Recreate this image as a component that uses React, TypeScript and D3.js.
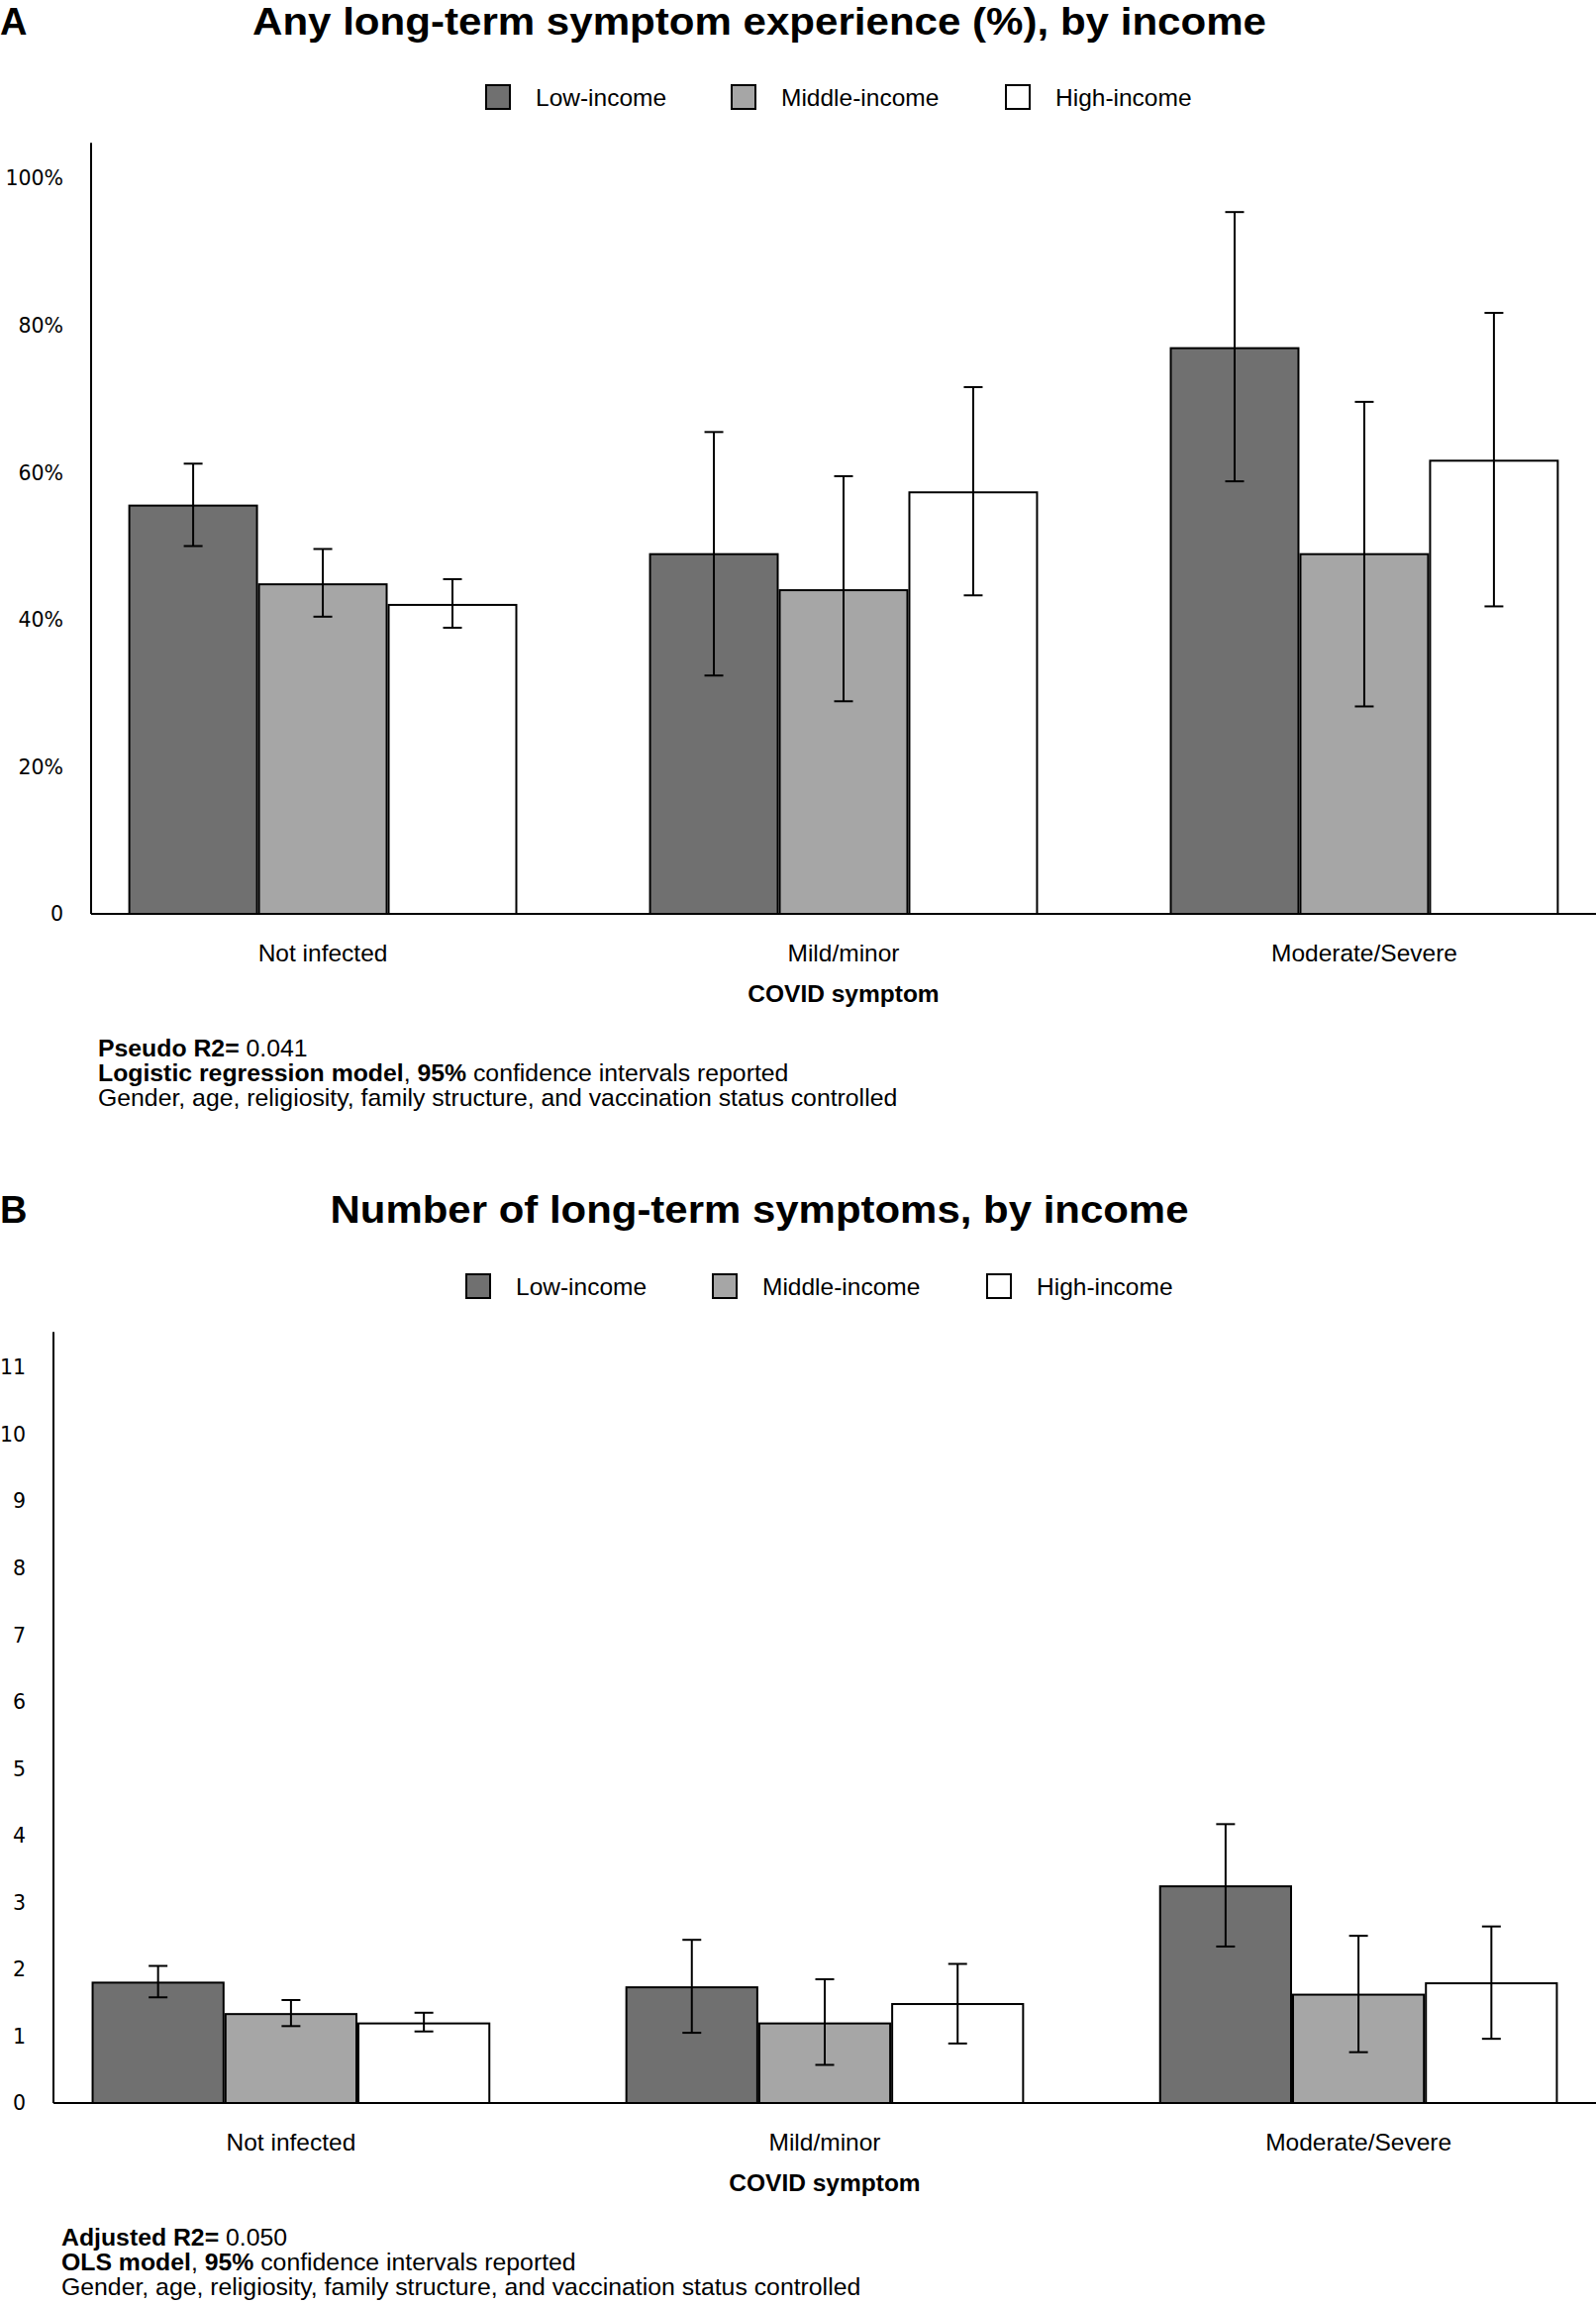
import React from "react";
import * as d3 from "d3";

const categories = ["Not infected", "Mild/minor", "Moderate/Severe"];
const seriesNames = ["Low-income", "Middle-income", "High-income"];
const seriesColors = ["#707070", "#a6a6a6", "#ffffff"];

// Panel A: any long-term symptom experience (%)
const anyLow = [55.5, 48.9, 76.9];
const anyLowLo = [50.0, 32.4, 58.8];
const anyLowHi = [61.2, 65.5, 95.4];
const anyMid = [44.8, 44.0, 48.9];
const anyMidLo = [40.4, 28.9, 28.2];
const anyMidHi = [49.6, 59.5, 69.6];
const anyHigh = [42.0, 57.3, 61.6];
const anyHighLo = [38.9, 43.3, 41.8];
const anyHighHi = [45.5, 71.6, 81.7];
const anyTicks = [0, 20, 40, 60, 80, 100];
const anyTickLabels = ["0", "20%", "40%", "60%", "80%", "100%"];

// Panel B: number of long-term symptoms
const numLow = [1.8, 1.73, 3.24];
const numLowLo = [1.58, 1.05, 2.34];
const numLowHi = [2.05, 2.44, 4.17];
const numMid = [1.33, 1.19, 1.62];
const numMidLo = [1.15, 0.57, 0.76];
const numMidHi = [1.54, 1.85, 2.5];
const numHigh = [1.19, 1.48, 1.79];
const numHighLo = [1.07, 0.89, 0.96];
const numHighHi = [1.35, 2.08, 2.64];
const numTicks = [0, 1, 2, 3, 4, 5, 6, 7, 8, 9, 10, 11];
const numTickLabels = numTicks.map(String);

const SANS = "'Liberation Sans', Arial, Helvetica, sans-serif";
const TICKFONT = "'DejaVu Sans', Verdana, sans-serif";

type PanelProps = {
  letter: string;
  title: string;
  titleY: number;
  titleLen: number;
  legendX: number[];
  legendY: number;
  axisX: number;
  zeroY: number;
  refVal: number;
  refY: number;
  topVal: number;
  ticks: number[];
  tickLabels: string[];
  values: number[][];
  lows: number[][];
  highs: number[][];
  notes: React.ReactNode[];
  noteX: number;
  noteY: number;
};

function Panel(p: PanelProps) {
  const right = 1612;
  const y = d3.scaleLinear().domain([0, p.refVal]).range([p.zeroY, p.refY]);
  const x0 = d3.scalePoint<string>().domain(categories).range([p.axisX, right]).padding(0.445);
  const groupW = x0.step() * 0.747;
  const x1 = d3.scaleBand<string>().domain(seriesNames).range([-groupW / 2, groupW / 2]).padding(0);
  const capW = 19;
  return (
    <g>
      <text x={0} y={p.titleY} fontFamily={SANS} fontWeight="bold" fontSize={38}>{p.letter}</text>
      <text x={767} y={p.titleY} textAnchor="middle" fontFamily={SANS} fontWeight="bold" fontSize={38}
        textLength={p.titleLen} lengthAdjust="spacingAndGlyphs">{p.title}</text>
      {seriesNames.map((s, i) => (
        <g key={s}>
          <rect x={p.legendX[i]} y={p.legendY - 12} width={24} height={24} fill={seriesColors[i]} stroke="#000" strokeWidth={2} />
          <text x={p.legendX[i] + 50} y={p.legendY + 9} fontFamily={SANS} fontSize={24.5}>{s}</text>
        </g>
      ))}
      {/* axes */}
      <line x1={p.axisX} x2={p.axisX} y1={y(0)} y2={y(p.topVal)} stroke="#000" strokeWidth={2} />
      <line x1={p.axisX} x2={right} y1={y(0)} y2={y(0)} stroke="#000" strokeWidth={2} />
      {p.ticks.map((t, i) => (
        <text key={t} x={p.axisX - 28} y={y(t)} dy="0.36em" textAnchor="end" fontFamily={TICKFONT} fontSize={20.5}>{p.tickLabels[i]}</text>
      ))}
      {/* bars */}
      {categories.map((c, ci) => (
        <g key={c} transform={`translate(${x0(c)},0)`}>
          {seriesNames.map((s, si) => {
            const bx = x1(s)!;
            const bw = x1.bandwidth();
            const v = p.values[si][ci];
            return (
              <rect key={s} x={bx + 1} y={y(v)} width={bw - 2} height={y(0) - y(v)} fill={seriesColors[si]} stroke="#000" strokeWidth={2} />
            );
          })}
          {seriesNames.map((s, si) => {
            const cx = x1(s)! + x1.bandwidth() / 2;
            const lo = y(p.lows[si][ci]);
            const hi = y(p.highs[si][ci]);
            return (
              <g key={s} stroke="#000" strokeWidth={2}>
                <line x1={cx} x2={cx} y1={lo} y2={hi} />
                <line x1={cx - capW / 2} x2={cx + capW / 2} y1={lo} y2={lo} />
                <line x1={cx - capW / 2} x2={cx + capW / 2} y1={hi} y2={hi} />
              </g>
            );
          })}
          <text x={0} y={y(0) + 48} textAnchor="middle" fontFamily={SANS} fontSize={24.5}>{c}</text>
        </g>
      ))}
      <text x={(p.axisX + right) / 2} y={y(0) + 89} textAnchor="middle" fontFamily={SANS} fontWeight="bold" fontSize={24.5}>COVID symptom</text>
      {p.notes.map((n, i) => (
        <text key={i} x={p.noteX} y={p.noteY + i * 24.8} fontFamily={SANS} fontSize={24.8}>{n}</text>
      ))}
    </g>
  );
}

export default function App() {
  return (
    <svg width={1612} height={2327} style={{ position: "absolute", left: 0, top: 0, background: "#fff" }}>
      <rect width={1612} height={2327} fill="#fff" />
      <Panel
        letter="A"
        title="Any long-term symptom experience (%), by income"
        titleY={35}
        titleLen={1024}
        legendX={[491, 739, 1016]}
        legendY={98}
        axisX={92}
        zeroY={923}
        refVal={100}
        refY={180}
        topVal={104.8}
        ticks={anyTicks}
        tickLabels={anyTickLabels}
        values={[anyLow, anyMid, anyHigh]}
        lows={[anyLowLo, anyMidLo, anyHighLo]}
        highs={[anyLowHi, anyMidHi, anyHighHi]}
        noteX={99}
        noteY={1067}
        notes={[
          <><tspan fontWeight="bold">Pseudo R2=</tspan> 0.041</>,
          <><tspan fontWeight="bold">Logistic regression model</tspan>, <tspan fontWeight="bold">95%</tspan> confidence intervals reported</>,
          <>Gender, age, religiosity, family structure, and vaccination status controlled</>,
        ]}
      />
      <Panel
        letter="B"
        title="Number of long-term symptoms, by income"
        titleY={1235}
        titleLen={867}
        legendX={[471, 720, 997]}
        legendY={1299}
        axisX={54}
        zeroY={2124}
        refVal={11}
        refY={1381}
        topVal={11.53}
        ticks={numTicks}
        tickLabels={numTickLabels}
        values={[numLow, numMid, numHigh]}
        lows={[numLowLo, numMidLo, numHighLo]}
        highs={[numLowHi, numMidHi, numHighHi]}
        noteX={62}
        noteY={2268}
        notes={[
          <><tspan fontWeight="bold">Adjusted R2=</tspan> 0.050</>,
          <><tspan fontWeight="bold">OLS model</tspan>, <tspan fontWeight="bold">95%</tspan> confidence intervals reported</>,
          <>Gender, age, religiosity, family structure, and vaccination status controlled</>,
        ]}
      />
    </svg>
  );
}
